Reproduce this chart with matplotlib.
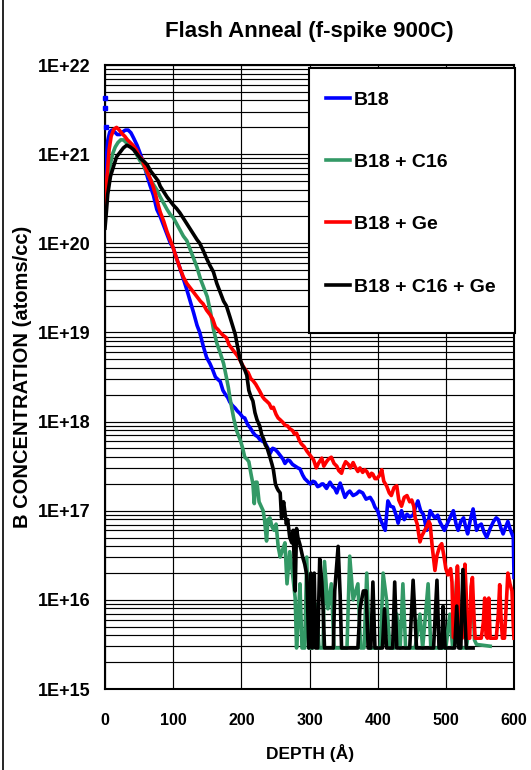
import numpy as np
import matplotlib
matplotlib.use("Agg")
import matplotlib.pyplot as plt
from matplotlib.ticker import FixedLocator, LogLocator, NullFormatter
from matplotlib.patches import Rectangle
from matplotlib.lines import Line2D

plt.rcParams['font.family'] = ['Liberation Sans', 'DejaVu Sans']
plt.rcParams['font.weight'] = 'bold'

# ---------------- data (log10 of concentration, atoms/cc) ----------------
b18_depth = [0, 2, 4, 7, 10, 14, 18, 22, 26, 30, 34, 38, 42, 47, 52, 56, 62, 66, 71, 76,
             81, 86, 91, 96, 100, 105, 110, 115, 120, 125, 130, 135, 139, 144, 149, 154, 158,
             162, 166, 169, 173, 177, 180, 183, 187, 191, 194, 198, 202, 205, 209, 213, 217,
             220, 224, 227, 231, 235, 239, 242, 246, 249, 253, 257, 261, 264, 268, 271, 275,
             279, 283, 286, 290, 293, 297, 301, 305, 308, 312, 315, 318, 320, 325, 330, 334,
             337, 340, 345, 349, 352, 356, 359, 364, 369, 373, 378, 383, 389, 393, 396, 400,
             403, 407, 411, 415, 419, 423, 427, 430, 435, 439, 443, 447, 452, 456, 459, 463,
             467, 472, 477, 481, 484, 488, 491, 495, 498, 502, 506, 511, 515, 518, 522, 526,
             529, 532, 536, 540, 545, 548, 552, 556, 560, 565, 570, 574, 577, 581, 584, 588,
             591, 594, 597, 599, 600]
b18_log = [20.55, 20.95, 21.15, 21.25, 21.27, 21.25, 21.22, 21.22, 21.25, 21.27, 21.27, 21.24,
           21.18, 21.10, 21.00, 20.91, 20.75, 20.65, 20.54, 20.38, 20.30, 20.20, 20.10, 20.00,
           19.95, 19.83, 19.72, 19.60, 19.48, 19.35, 19.22, 19.08, 19.00, 18.85, 18.72, 18.65,
           18.58, 18.50, 18.47, 18.45, 18.35, 18.30, 18.27, 18.22, 18.18, 18.15, 18.12, 18.09,
           18.05, 18.04, 17.97, 17.93, 17.88, 17.85, 17.83, 17.80, 17.78, 17.76, 17.70, 17.64,
           17.70, 17.69, 17.66, 17.62, 17.58, 17.53, 17.57, 17.56, 17.52, 17.50, 17.48, 17.47,
           17.40, 17.36, 17.33, 17.30, 17.33, 17.32, 17.27, 17.28, 17.30, 17.30, 17.25, 17.32,
           17.27, 17.25, 17.20, 17.31, 17.22, 17.15, 17.20, 17.22, 17.17, 17.19, 17.22, 17.20,
           17.13, 17.15, 17.10, 17.04, 17.00, 16.92, 16.85, 16.78, 17.11, 17.05, 17.04, 16.95,
           16.86, 17.00, 16.90, 16.96, 16.93, 16.95, 17.05, 17.11, 17.00, 16.96, 16.78, 17.00,
           16.95, 16.92, 16.95, 16.88, 16.82, 16.78, 16.85, 16.92, 17.00, 16.85, 16.78, 16.88,
           16.92, 16.82, 16.74, 16.90, 17.02, 16.78, 16.83, 16.85, 16.76, 16.70, 16.80, 16.88,
           16.92, 16.90, 16.80, 16.74, 16.82, 16.88, 16.80, 16.74, 16.70, 16.25]

b18_marker_depth = [0, 0, 1]
b18_marker_log = [21.63, 21.52, 21.30]

c16_depth = [0, 3, 7, 11, 15, 19, 23, 27, 31, 36, 41, 46, 51, 56, 61, 66, 71, 76, 81, 86,
             91, 96, 100, 105, 110, 115, 120, 125, 130, 135, 140, 145, 150, 155, 159, 164,
             169, 174, 178, 181, 183, 186, 189, 193, 196, 199, 202, 205, 208, 211, 214, 217,
             219, 221, 223, 226, 229, 232, 234, 237, 239, 242, 245, 248, 251, 254, 257, 260,
             264, 267, 271, 275, 279, 281, 284, 286, 289, 293, 296, 299, 305, 310, 314, 320,
             322, 327, 332, 336, 350, 355, 359, 364, 371, 375, 380, 384, 388, 400, 404, 408,
             413, 418, 425, 428, 433, 437, 441, 455, 462, 466, 474, 478, 488, 500, 506, 510,
             517, 521, 530, 540, 542, 545, 565]
c16_log = [20.28, 20.55, 20.85, 21.00, 21.08, 21.13, 21.16, 21.16, 21.13, 21.10, 21.07, 21.00,
           20.93, 20.88, 20.80, 20.73, 20.66, 20.60, 20.52, 20.45, 20.38, 20.32, 20.29, 20.22,
           20.15, 20.08, 20.03, 19.93, 19.83, 19.73, 19.60, 19.50, 19.40, 19.22, 19.04, 18.88,
           18.77, 18.65, 18.50, 18.38, 18.28, 18.15, 18.03, 17.90, 17.84, 17.78, 17.70, 17.60,
           17.58, 17.55, 17.42, 17.30, 17.08, 17.32, 17.32, 17.10, 17.05, 17.00, 16.90, 16.66,
           16.90, 16.92, 16.82, 16.78, 16.85, 16.60, 16.48, 16.55, 16.64, 16.18, 16.54, 16.30,
           16.02, 15.46, 15.85, 16.18, 15.46, 15.46, 16.48, 15.46, 15.46, 15.95, 15.46, 15.46,
           16.43, 15.90, 16.18, 15.46, 15.46, 15.46, 16.49, 16.00, 16.18, 15.46, 15.46, 16.30,
           15.46, 15.46, 15.46, 16.30, 16.00, 15.46, 15.46, 15.84, 15.46, 16.18, 15.46, 15.46,
           15.84, 15.46, 16.18, 15.46, 15.46, 15.46, 15.84, 15.46, 16.36, 15.46, 15.46, 16.00,
           15.55, 15.50, 15.48]

ge_depth = [0, 3, 6, 9, 13, 17, 21, 25, 29, 33, 37, 41, 46, 50, 54, 58, 62, 66, 70, 74,
            78, 81, 86, 91, 96, 100, 105, 110, 115, 120, 125, 130, 135, 140, 144, 149, 154,
            158, 162, 166, 169, 173, 178, 182, 186, 190, 194, 198, 202, 206, 210, 214, 217,
            221, 224, 227, 231, 234, 237, 241, 244, 247, 251, 254, 257, 261, 264, 268, 271,
            275, 278, 281, 285, 288, 292, 296, 299, 303, 306, 310, 313, 318, 321, 325, 328,
            332, 336, 340, 343, 347, 350, 353, 357, 360, 364, 367, 371, 374, 378, 381, 384,
            388, 391, 393, 396, 399, 403, 406, 409, 413, 417, 420, 424, 428, 431, 435, 439,
            443, 447, 450, 453, 455, 458, 462, 465, 469, 472, 475, 477, 480, 484, 487, 491,
            494, 497, 500, 503, 507, 509, 511, 513, 515, 517, 519, 521, 524, 526, 528, 530,
            532, 535, 537, 539, 541, 543, 546, 549, 552, 555, 557, 559, 561, 563, 565, 568,
            571, 574, 577, 579, 581, 583, 586, 588, 591, 594, 597, 599, 600]
ge_log = [20.28, 20.75, 21.05, 21.20, 21.28, 21.30, 21.27, 21.23, 21.20, 21.16, 21.13, 21.10,
          21.05, 20.98, 20.95, 20.87, 20.80, 20.73, 20.65, 20.55, 20.43, 20.35, 20.25, 20.13,
          20.03, 19.95, 19.83, 19.72, 19.62, 19.55, 19.50, 19.45, 19.40, 19.35, 19.32, 19.25,
          19.20, 19.15, 19.06, 19.03, 19.00, 18.97, 18.94, 18.86, 18.82, 18.78, 18.74, 18.69,
          18.63, 18.58, 18.55, 18.48, 18.46, 18.42, 18.38, 18.34, 18.28, 18.25, 18.23, 18.20,
          18.15, 18.16, 18.08, 18.04, 18.02, 17.99, 17.96, 17.95, 17.92, 17.90, 17.86, 17.87,
          17.79, 17.75, 17.72, 17.67, 17.64, 17.60, 17.57, 17.48, 17.53, 17.59, 17.50, 17.55,
          17.58, 17.60, 17.53, 17.50, 17.45, 17.42, 17.50, 17.55, 17.52, 17.48, 17.54, 17.49,
          17.44, 17.48, 17.43, 17.46, 17.44, 17.38, 17.42, 17.41, 17.36, 17.36, 17.40, 17.46,
          17.33, 17.28, 17.20, 17.17, 17.26, 17.28, 17.12, 17.05, 17.15, 17.17, 17.10, 17.12,
          17.05, 16.92, 16.85, 16.65, 16.72, 16.78, 16.82, 16.88, 16.85, 16.60, 16.33, 16.50,
          16.60, 16.63, 16.50, 16.35, 16.28, 16.35, 16.20, 15.58, 15.57, 16.05, 16.38, 15.95,
          15.57, 15.57, 16.10, 16.40, 16.05, 15.57, 15.57, 16.15, 16.25, 15.85, 15.57, 15.57,
          15.57, 15.57, 15.75, 16.02, 15.60, 15.57, 16.02, 15.57, 15.57, 15.57, 15.57, 15.85,
          16.17, 15.80, 15.57, 15.57, 15.85, 16.30, 16.18, 16.10, 15.70, 15.57]

c16ge_depth = [0, 2, 4, 8, 12, 17, 22, 27, 32, 37, 42, 47, 52, 57, 62, 67, 72, 78, 81, 86,
               91, 96, 100, 105, 110, 115, 120, 125, 130, 135, 139, 144, 149, 154, 159, 164,
               169, 174, 178, 183, 187, 191, 195, 198, 202, 205, 208, 211, 214, 217, 220, 223,
               227, 230, 233, 235, 238, 242, 245, 247, 250, 252, 254, 257, 259, 262, 264, 266,
               268, 271, 274, 276, 279, 281, 283, 286, 290, 293, 296, 299, 302, 304, 307, 309,
               312, 315, 318, 320, 322, 335, 337, 342, 345, 347, 371, 374, 379, 383, 386, 390,
               393, 396, 407, 410, 413, 422, 425, 428, 447, 452, 457, 482, 487, 490, 494, 496,
               499, 513, 516, 519, 522, 525, 530, 540]
c16ge_log = [20.17, 20.35, 20.55, 20.75, 20.85, 20.97, 21.02, 21.07, 21.10, 21.08, 21.05, 21.00,
             20.95, 20.92, 20.88, 20.81, 20.76, 20.70, 20.64, 20.58, 20.52, 20.47, 20.43, 20.39,
             20.34, 20.28, 20.22, 20.16, 20.10, 20.04, 20.00, 19.92, 19.83, 19.75, 19.68, 19.55,
             19.45, 19.35, 19.30, 19.18, 19.08, 18.98, 18.82, 18.70, 18.62, 18.58, 18.52, 18.35,
             18.28, 18.23, 18.10, 18.02, 17.95, 17.85, 17.80, 17.74, 17.70, 17.60, 17.52, 17.46,
             17.30, 17.26, 17.23, 17.20, 16.92, 17.10, 16.98, 16.85, 16.90, 16.70, 16.64, 16.78,
             16.10, 16.80, 16.70, 16.62, 16.48, 16.40, 16.28, 15.46, 16.30, 15.46, 16.30, 15.46,
             15.46, 16.46, 16.20, 15.90, 15.46, 15.46, 16.10, 16.60, 16.05, 15.46, 15.46, 15.90,
             16.10, 16.10, 15.46, 15.46, 16.20, 15.46, 15.46, 15.90, 15.46, 15.46, 16.20, 15.46,
             15.46, 16.22, 15.46, 15.46, 16.22, 15.46, 15.46, 15.93, 15.46, 15.46, 15.93, 15.46,
             15.46, 16.34, 15.46, 15.46]

series_labels = ['B18', 'B18 + C16', 'B18 + Ge', 'B18 + C16 + Ge']
series_colors = ['#0000FF', '#339966', '#FF0000', '#000000']

x_ticks = [0, 100, 200, 300, 400, 500, 600]
y_ticks = [1e15, 1e16, 1e17, 1e18, 1e19, 1e20, 1e21, 1e22]
y_tick_labels = ['1E+15', '1E+16', '1E+17', '1E+18', '1E+19', '1E+20', '1E+21', '1E+22']

# ---------------- figure ----------------
W, H = 531, 770
fig = plt.figure(figsize=(W / 100, H / 100), dpi=100)
ax = fig.add_axes([105 / W, 1 - 689 / H, (514 - 105) / W, (689 - 65) / H])

ax.set_yscale('log')
ax.set_xlim(0, 600)
ax.set_ylim(1e15, 1e22)

ax.yaxis.set_major_locator(FixedLocator(y_ticks))
ax.set_yticklabels(y_tick_labels)
ax.yaxis.set_minor_locator(LogLocator(base=10, subs=np.arange(2, 10), numticks=50))
ax.yaxis.set_minor_formatter(NullFormatter())
ax.set_xticks(x_ticks)
ax.set_xticklabels([str(v) for v in x_ticks])

ax.grid(True, which='both', axis='y', color='black', linewidth=0.85)
ax.grid(True, which='major', axis='x', color='black', linewidth=0.85)
ax.set_axisbelow(True)
ax.tick_params(which='both', length=0)
ax.tick_params(axis='y', labelsize=13, pad=10.5)
ax.tick_params(axis='x', labelsize=11.5, pad=17)
for s in ax.spines.values():
    s.set_linewidth(1.5)

all_depths = [b18_depth, c16_depth, ge_depth, c16ge_depth]
all_logs = [b18_log, c16_log, ge_log, c16ge_log]
handles = []
for d, lg, lab, col in zip(all_depths, all_logs, series_labels, series_colors):
    h, = ax.plot(d, 10 ** np.array(lg), color=col, linewidth=2.6, label=lab,
                 solid_joinstyle='round', zorder=3)
    handles.append(h)

ax.plot(b18_marker_depth, 10 ** np.array(b18_marker_log), linestyle='none', marker='s',
        markersize=3.2, color='#0000FF', clip_on=False, zorder=3)

# legend box
rect = Rectangle((309 / W, 1 - 333 / H), (515 - 309) / W, (333 - 68) / H,
                 transform=fig.transFigure, facecolor='white', edgecolor='black',
                 linewidth=1.5, zorder=4, clip_on=False)
ax.add_patch(rect)
leg = ax.legend(handles=handles, loc='upper left',
                bbox_to_anchor=(326 / W, 1 - 91 / H), bbox_transform=fig.transFigure,
                frameon=False, borderpad=0, borderaxespad=0,
                prop={'size': 14, 'weight': 'bold'}, handlelength=1.24,
                handletextpad=0.2, labelspacing=2.3)
leg.set_zorder(5)

fig.text(309.5 / W, 1 - 31 / H, 'Flash Anneal (f-spike 900C)', ha='center', va='center',
         fontsize=16, fontweight='bold')
fig.text(23 / W, 1 - 377 / H, 'B CONCENTRATION (atoms/cc)', rotation=90, ha='center',
         va='center', fontsize=14.5, fontweight='bold')
fig.text(310 / W, 1 - 753 / H, 'DEPTH (Å)', ha='center', va='center', fontsize=12.5,
         fontweight='bold')

fig.add_artist(Line2D([2.5 / W, 2.5 / W], [0, 1], transform=fig.transFigure,
                      color='black', linewidth=1.2))

fig.savefig('out.png', dpi=100)
